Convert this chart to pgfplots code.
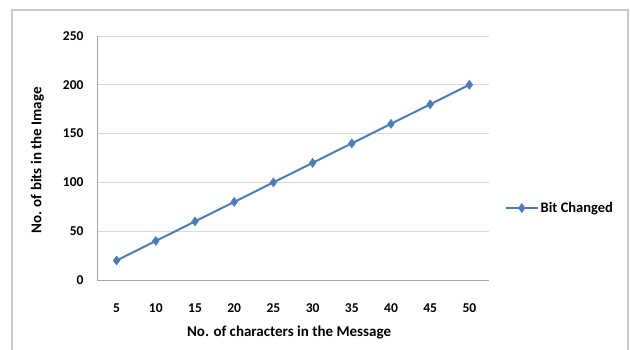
\documentclass[border=0pt]{standalone}
\usepackage{pgfplots}
\pgfplotsset{compat=1.18}
\usepackage{fontspec}
\setmainfont{Carlito}
\definecolor{excelblue}{HTML}{4A7EBB}
\definecolor{gridgray}{HTML}{D9D9D9}
\definecolor{axisgray}{HTML}{A6A6A6}
\definecolor{framegray}{HTML}{C8C8C8}
\begin{document}
\begin{tikzpicture}[x=1pt,y=1pt]
\draw[framegray, line width=1.2pt] (12,0) -- (12,340) -- (628,340) -- (628,0);
\begin{axis}[
  at={(97pt,70pt)}, anchor=south west,
  scale only axis, width=392pt, height=244pt,
  xmin=2.5, xmax=52.5, ymin=0, ymax=250,
  xtick={5,10,...,50}, ytick={0,50,...,250},
  major tick length=0pt,
  ymajorgrids, grid style={gridgray, line width=0.8pt},
  axis x line*=bottom, axis y line*=left,
  axis line style={axisgray, line width=0.8pt},
  /pgf/number format/assume math mode=true,
  ticklabel style={font=\fontsize{13.5}{14}\selectfont\bfseries},
  xticklabel style={yshift=-20pt},
  yticklabel style={xshift=-10pt},
  xlabel={No. of characters in the Message},
  ylabel={No. of bits in the Image},
  label style={font=\fontsize{15}{16}\selectfont\bfseries},
  xlabel style={at={(axis description cs:0.49,0)}, anchor=center, yshift=-53pt},
  ylabel style={at={(axis description cs:-0.152,0.49)}, anchor=center},
  legend style={at={(1.032,0.295)}, anchor=west, draw=none, fill=none,
    font=\fontsize{14.5}{15}\selectfont\bfseries},
  legend cell align=left,
  legend image code/.code={%
    \draw[#1, mark repeat=2, mark phase=2] plot coordinates {(0pt,0pt) (16pt,0pt) (32pt,0pt)};},
]
\addplot[excelblue, line width=2pt, mark=diamond*, mark size=4.5pt,
  mark options={fill=excelblue, draw=excelblue, line width=0.5pt}]
  coordinates {(5,20) (10,40) (15,60) (20,80) (25,100) (30,120) (35,140) (40,160) (45,180) (50,200)};
\addlegendentry{Bit Changed}
\end{axis}
\pgfresetboundingbox
\path (0,0) rectangle (630,350);
\end{tikzpicture}
\end{document}
